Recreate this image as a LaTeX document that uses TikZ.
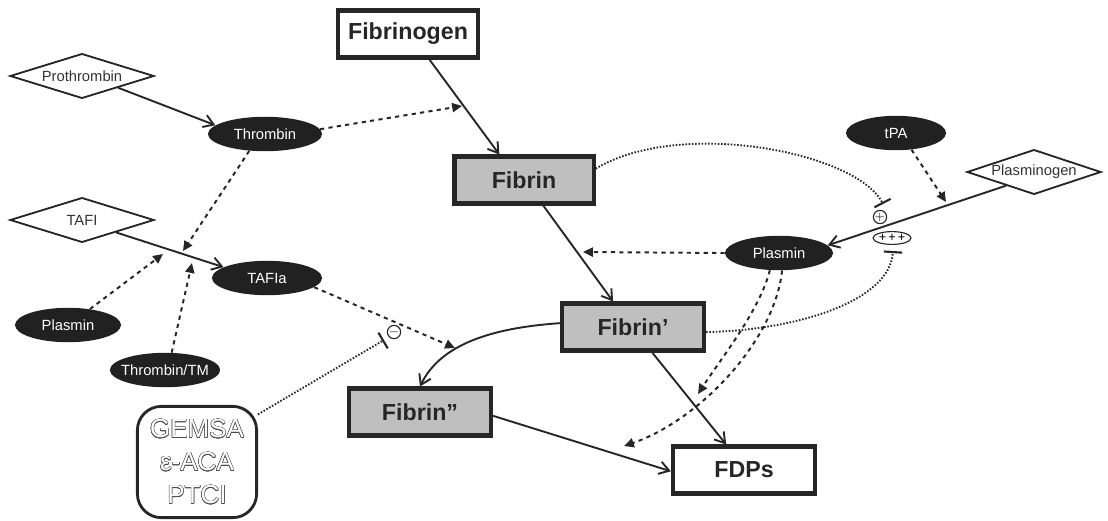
\documentclass[tikz,border=0pt]{standalone}
\usepackage{fontspec}
\setmainfont{Liberation Sans}
\usepackage{contour}
\contourlength{0.28pt}
\usetikzlibrary{shapes.geometric,arrows.meta}

\begin{document}
\begin{tikzpicture}[
    x=0.025cm, y=-0.025cm,
    stage/.style={rectangle, draw=black!85, line width=3pt, minimum width=3.48cm, minimum height=1.17cm, text=black!85, font=\fontsize{16.5}{19}\selectfont\bfseries},
    fibrin/.style={stage, fill=black!25},
    zymogen/.style={diamond, aspect=3.2, draw=black!85, line width=1.3pt, fill=white, minimum width=3.6cm, minimum height=1.12cm, inner sep=0pt, text=black!80, font=\fontsize{10.5}{12}\selectfont},
    enzyme/.style={ellipse, fill=black!87, text=white, minimum width=2.75cm, minimum height=0.86cm, inner sep=0pt, font=\fontsize{10.5}{12}\selectfont},
    conv/.style={-{Straight Barb[length=7pt,width=9pt]}, line width=1.35pt, black!85},
    act/.style={-{Triangle[length=7pt,width=6.5pt]}, line width=1.4pt, black!85, dash pattern=on 3pt off 3pt},
    inhib/.style={-{Bar[width=13pt,line width=1.5pt]}, line width=1.35pt, black!85, dash pattern=on 1.1pt off 1.2pt},
    sign/.style={circle, draw=black!85, line width=0.8pt, inner sep=0pt, minimum size=0.3cm, font=\fontsize{9}{9}\selectfont}
]
\useasboundingbox (0,0) rectangle (1108,520);

% fibrin forms
\node[stage, fill=white] (fibrinogen) at (408,34) {Fibrinogen};
\node[fibrin] (fibrin) at (524,180) {Fibrin};
\node[fibrin, minimum width=3.55cm] (fibrin1) at (633,327) {Fibrin’};
\node[fibrin, minimum width=3.55cm] (fibrin2) at (420,412) {Fibrin”};
\node[stage, fill=white, minimum width=3.55cm] (fdps) at (744,470) {FDPs};

% zymogens
\node[zymogen] (prothrombin) at (82,76) {Prothrombin};
\node[zymogen] (tafi) at (82,220) {TAFI};
\node[zymogen, minimum width=3.35cm] (plasminogen) at (1034,172) {Plasminogen};

% enzymes
\node[enzyme, minimum width=2.85cm] (thrombin) at (265,134) {Thrombin};
\node[enzyme] (tafia) at (267,278) {TAFIa};
\node[enzyme, minimum width=2.65cm] (plasminL) at (68,325) {Plasmin};
\node[enzyme, minimum width=2.68cm, inner xsep=-3.5pt] (thrombintm) at (165,370) {Thrombin/TM};
\node[enzyme, minimum width=2.5cm] (tpa) at (896,133) {tPA};
\node[enzyme, minimum width=2.7cm] (plasminR) at (779,253) {Plasmin};

% inhibitors
\node[draw=black!85, line width=2pt, rounded corners=17pt, minimum width=2.98cm, minimum height=2.78cm, align=center, text=white, font=\fontsize{18.5}{23.5}\selectfont] (gemsa) at (197,462) {\contour{black!70}{GEMSA}\\\contour{black!70}{ε-ACA}\\\contour{black!70}{PTCI}};

% signs
\node[sign] (plus) at (880,217) {$+$};
\node[ellipse, draw=black!85, line width=0.8pt, inner sep=0pt, minimum width=0.95cm, minimum height=0.32cm, font=\fontsize{9}{9}\selectfont] (plus3) at (892,238) {+\,+\,+};
\node[sign] (minus) at (394,332) {$-$};

% points on the conversion lines
\coordinate (fgmid) at (462,106);
\coordinate (tafimidA) at (183,251);
\coordinate (tafimidB) at (163,254);
\coordinate (tafimidC) at (192,263);
\coordinate (f2mid) at (455,348);
\coordinate (ffmid) at (583,252);
\coordinate (fdpmidA) at (698,394);
\coordinate (fdpmidB) at (624,446);
\coordinate (pgmid) at (946,202);
\coordinate (plusbar) at (883,204);
\coordinate (plus3bar) at (893,251);
\coordinate (minusbar) at (384,340);

% conversions
\draw[conv] (fibrinogen.-50) -- (fibrin.134);
\draw[conv] (fibrin.-53) -- (fibrin1.128);
\draw[conv] (fibrin1.177) .. controls (490,328) and (440,345) .. (fibrin2.north);
\draw[conv] (fibrin1.-53) -- (fdps.125);
\draw[conv] (fibrin2.-3) -- (fdps.181);
\draw[conv] (prothrombin.-18) -- (thrombin.170);
\draw[conv] (tafi.-20) -- (tafia.166);
\draw[conv] (plasminogen.206) -- (plasminR.9);

% activations
\draw[act] (thrombin.5) -- (fgmid);
\draw[act] (thrombin.-133) -- (tafimidA);
\draw[act] (plasminL.36) -- (tafimidB);
\draw[act] (thrombintm.69) -- (tafimidC);
\draw[act] (tafia.-11) -- (f2mid);
\draw[act] (tpa.-47) -- (pgmid);
\draw[act] (plasminR.west) -- (ffmid);
\draw[act] (plasminR.-118) .. controls (760,310) and (720,360) .. (fdpmidA);
\draw[act] (plasminR.-80) .. controls (775,340) and (700,420) .. (fdpmidB);

% inhibitions
\draw[inhib] (fibrin.9) .. controls (680,118) and (856,152) .. (plusbar);
\draw[inhib] (fibrin1.-4) .. controls (800,330) and (890,300) .. (plus3bar);
\draw[inhib] (gemsa.38) -- (minusbar);
\end{tikzpicture}
\end{document}
